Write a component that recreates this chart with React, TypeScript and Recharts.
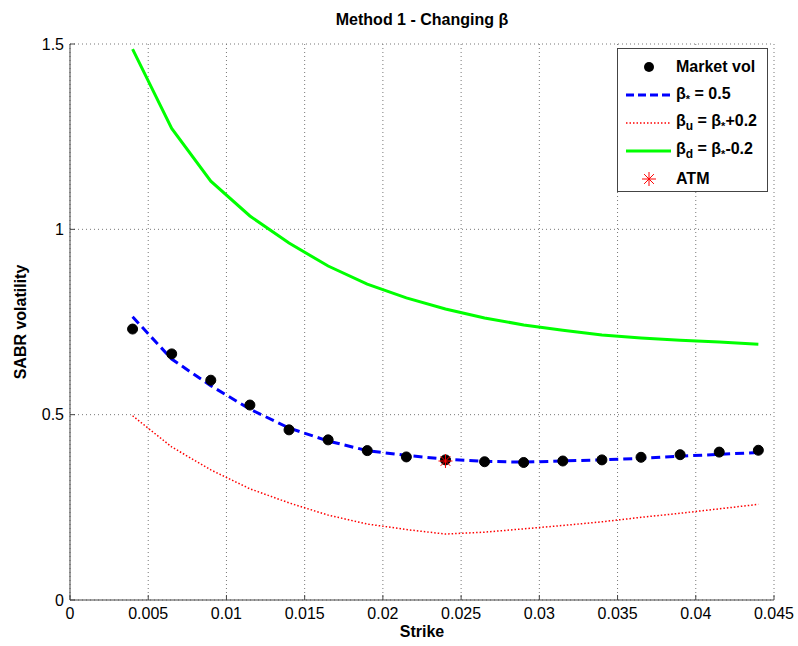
import {
  ComposedChart,
  Line,
  Scatter,
  XAxis,
  YAxis,
  CartesianGrid,
  Label,
} from "recharts";

const strikes = [
  0.004, 0.0065, 0.009, 0.0115, 0.014, 0.0165, 0.019, 0.0215, 0.024, 0.0265,
  0.029, 0.0315, 0.034, 0.0365, 0.039, 0.0415, 0.044,
];
const marketVol = [
  0.731, 0.664, 0.593, 0.526, 0.459, 0.432, 0.403, 0.386, 0.378, 0.373, 0.371,
  0.375, 0.378, 0.385, 0.392, 0.399, 0.404,
];
const betaStar = [
  0.764, 0.65, 0.578, 0.515, 0.464, 0.429, 0.403, 0.39, 0.38, 0.374, 0.372,
  0.375, 0.378, 0.382, 0.388, 0.393, 0.398,
];
const betaUp = [
  0.497, 0.413, 0.351, 0.3, 0.262, 0.229, 0.205, 0.19, 0.178, 0.183, 0.192,
  0.201, 0.211, 0.223, 0.234, 0.246, 0.258,
];
const betaDown = [
  1.486, 1.272, 1.13, 1.036, 0.963, 0.901, 0.852, 0.815, 0.785, 0.761, 0.742,
  0.728, 0.715, 0.707, 0.701, 0.696, 0.69,
];
const atmStrike = 0.024;
const atmVol = 0.375;

const xTicks = [0, 0.005, 0.01, 0.015, 0.02, 0.025, 0.03, 0.035, 0.04, 0.045];
const yTicks = [0, 0.5, 1, 1.5];

const data = strikes.map((k, i) => ({
  strike: k,
  market: marketVol[i],
  star: betaStar[i],
  up: betaUp[i],
  down: betaDown[i],
}));
const atmData = [{ strike: atmStrike, atm: atmVol }];

const FONT = "'Liberation Sans', Arial, Helvetica, sans-serif";
const AXIS = "#444";

function Star(props: any) {
  const { cx, cy } = props;
  const r = 7;
  const d = r * 0.7;
  return (
    <g stroke="#ff0000" strokeWidth={1}>
      <line x1={cx - r} y1={cy} x2={cx + r} y2={cy} />
      <line x1={cx} y1={cy - r} x2={cx} y2={cy + r} />
      <line x1={cx - d} y1={cy - d} x2={cx + d} y2={cy + d} />
      <line x1={cx - d} y1={cy + d} x2={cx + d} y2={cy - d} />
    </g>
  );
}

function LegendBox() {
  const row = { display: "flex", alignItems: "center", height: 28 } as const;
  const txt = { fontWeight: 700, fontSize: 16, marginLeft: 4 } as const;
  return (
    <div
      style={{
        position: "absolute",
        left: 617,
        top: 48,
        width: 151,
        height: 144,
        border: "1px solid #444",
        background: "#fff",
        fontFamily: FONT,
        boxSizing: "border-box",
        paddingTop: 4,
      }}
    >
      <div style={row}>
        <svg width={54} height={20}>
          <circle cx={31} cy={10} r={5} fill="#000" />
        </svg>
        <span style={txt}>Market vol</span>
      </div>
      <div style={row}>
        <svg width={54} height={20}>
          <line x1={8} y1={10} x2={53} y2={10} stroke="#0000ff" strokeWidth={3} strokeDasharray="8 4" />
        </svg>
        <span style={txt}>
          β<sub style={{ fontSize: 11 }}>*</sub> = 0.5
        </span>
      </div>
      <div style={row}>
        <svg width={54} height={20}>
          <line x1={8} y1={10} x2={53} y2={10} stroke="#ff0000" strokeWidth={1.5} strokeDasharray="1.5 2" />
        </svg>
        <span style={txt}>
          β<sub style={{ fontSize: 12 }}>u</sub> = β<sub style={{ fontSize: 11 }}>*</sub>+0.2
        </span>
      </div>
      <div style={row}>
        <svg width={54} height={20}>
          <line x1={8} y1={10} x2={53} y2={10} stroke="#00ff00" strokeWidth={3} />
        </svg>
        <span style={txt}>
          β<sub style={{ fontSize: 12 }}>d</sub> = β<sub style={{ fontSize: 11 }}>*</sub>-0.2
        </span>
      </div>
      <div style={row}>
        <svg width={54} height={20}>
          <Star cx={31} cy={10} />
        </svg>
        <span style={txt}>ATM</span>
      </div>
    </div>
  );
}

export default function App() {
  return (
    <div style={{ position: "absolute", left: 0, top: 0, width: 798, height: 646, background: "#fff", fontFamily: FONT }}>
      <div
        style={{
          position: "absolute",
          left: 70,
          width: 704,
          top: 11,
          textAlign: "center",
          fontWeight: 700,
          fontSize: 16,
          fontFamily: FONT,
          color: "#000",
        }}
      >
        Method 1 - Changing β
      </div>
      <ComposedChart
        width={798}
        height={646}
        data={data}
        margin={{ top: 44, right: 24, bottom: 0, left: 0 }}
      >
        <CartesianGrid stroke="#777" strokeDasharray="1 3" />
        <XAxis
          dataKey="strike"
          type="number"
          domain={[0, 0.045]}
          ticks={xTicks}
          allowDataOverflow
          height={46}
          stroke={AXIS}
          tickSize={-5}
          tickMargin={13}
          tick={{ fill: "#000", fontSize: 16, fontFamily: FONT }}
        >
          <Label
            value="Strike"
            position="insideBottom"
            offset={9}
            style={{ fontWeight: 700, fontSize: 16, fill: "#000", fontFamily: FONT }}
          />
        </XAxis>
        <XAxis
          xAxisId="top"
          orientation="top"
          type="number"
          domain={[0, 0.045]}
          ticks={xTicks}
          allowDataOverflow
          height={0}
          stroke={AXIS}
          tickSize={-5}
          tick={false}
        />
        <YAxis
          type="number"
          domain={[0, 1.5]}
          ticks={yTicks}
          allowDataOverflow
          width={70}
          stroke={AXIS}
          tickSize={-5}
          tickMargin={11}
          tick={{ fill: "#000", fontSize: 16, fontFamily: FONT }}
        >
          <Label
            content={(p: any) => {
              const cy = p.viewBox.y + p.viewBox.height / 2;
              return (
                <text
                  x={26}
                  y={cy}
                  textAnchor="middle"
                  transform={`rotate(-90, 26, ${cy})`}
                  style={{ fontWeight: 700, fontSize: 16, fill: "#000", fontFamily: FONT }}
                >
                  SABR volatility
                </text>
              );
            }}
          />
        </YAxis>
        <YAxis
          yAxisId="right"
          orientation="right"
          type="number"
          domain={[0, 1.5]}
          ticks={yTicks}
          allowDataOverflow
          width={0}
          stroke={AXIS}
          tickSize={-5}
          tick={false}
        />
        <Line
          dataKey="down"
          stroke="#00ff00"
          strokeWidth={3}
          dot={false}
          isAnimationActive={false}
        />
        <Line
          dataKey="up"
          stroke="#ff0000"
          strokeWidth={1.5}
          strokeDasharray="1.5 2"
          dot={false}
          isAnimationActive={false}
        />
        <Line
          dataKey="market"
          stroke="none"
          dot={{ r: 5, fill: "#000", stroke: "#000", strokeWidth: 1 }}
          isAnimationActive={false}
        />
        <Line
          dataKey="star"
          stroke="#0000ff"
          strokeWidth={3}
          strokeDasharray="9 5"
          dot={false}
          isAnimationActive={false}
        />
        <Scatter
          data={atmData}
          dataKey="atm"
          shape={<Star />}
          isAnimationActive={false}
        />
      </ComposedChart>
      <LegendBox />
    </div>
  );
}
